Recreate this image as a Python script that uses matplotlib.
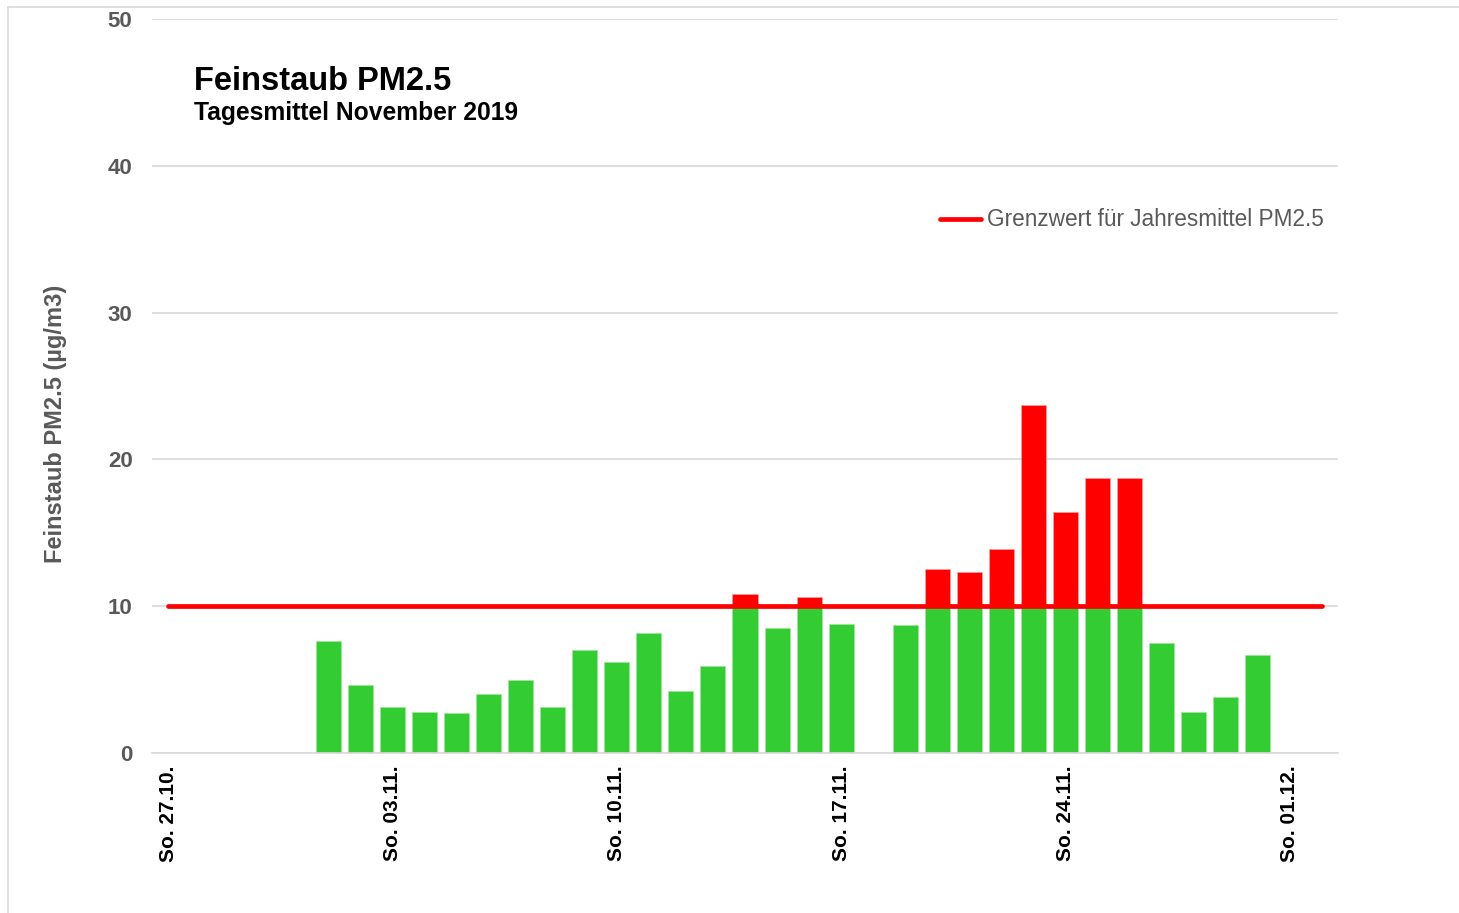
import numpy as np
import matplotlib.pyplot as plt

# daily means PM2.5, 27.10.2019 - 02.12.2019 (None = no value)
days = ["27.10.", "28.10.", "29.10.", "30.10.", "31.10.",
        "01.11.", "02.11.", "03.11.", "04.11.", "05.11.", "06.11.", "07.11.",
        "08.11.", "09.11.", "10.11.", "11.11.", "12.11.", "13.11.", "14.11.",
        "15.11.", "16.11.", "17.11.", "18.11.", "19.11.", "20.11.", "21.11.",
        "22.11.", "23.11.", "24.11.", "25.11.", "26.11.", "27.11.", "28.11.",
        "29.11.", "30.11.", "01.12.", "02.12."]
pm25 = [None, None, None, None, None,
        7.6, 4.6, 3.1, 2.8, 2.7, 4.0, 5.0,
        3.1, 7.0, 6.2, 8.2, 4.2, 5.9, 10.8,
        8.5, 10.6, 8.8, None, 8.7, 12.5, 12.3,
        13.9, 23.7, 16.4, 18.7, 18.7, 7.5, 2.8,
        3.8, 6.7, None, None]
grenzwert = 10
tick_days = ["So. 27.10.", "So. 03.11.", "So. 10.11.", "So. 17.11.", "So. 24.11.", "So. 01.12."]

plt.rcParams['font.family'] = ['Liberation Sans', 'DejaVu Sans']

x = np.arange(len(days))
vals = np.array([np.nan if v is None else v for v in pm25])
has = ~np.isnan(vals)
green = np.minimum(vals, grenzwert)
over = has & (vals > grenzwert)

fig = plt.figure(figsize=(14.59, 9.13), dpi=100)
ax = fig.add_axes([152/1459, 1 - 753/913, (1338 - 152)/1459, (753 - 19)/913])

ax.bar(x[has], green[has], width=0.78, color="#33CC33", edgecolor="#9be89b", linewidth=0.6, zorder=2)
ax.bar(x[over], vals[over] - grenzwert, width=0.78, bottom=grenzwert, color="#FF0000",
       edgecolor="#ff9a9a", linewidth=0.6, zorder=2)
ax.plot([x[0], x[-1]], [grenzwert, grenzwert], color="#FF0000", lw=3.4,
        solid_capstyle="round", zorder=3, label="Grenzwert für Jahresmittel PM2.5")

ax.set_xlim(-0.5, len(days) - 0.5)
ax.set_ylim(0, 50)
ax.set_yticks(range(0, 51, 10))
ax.set_xticks(x[::7])
ax.set_xticklabels(tick_days, rotation=90, fontsize=15, fontweight="bold", color="black")
ax.tick_params(axis="y", labelsize=16, labelcolor="#595959", length=0, pad=14)
ax.tick_params(axis="x", length=0, pad=9)
for lbl in ax.get_yticklabels():
    lbl.set_fontweight("bold")
ax.grid(axis="y", color="#D9D9D9", lw=1.2, zorder=0)
for s in ["top", "right", "left"]:
    ax.spines[s].set_visible(False)
ax.spines["bottom"].set_color("#D9D9D9")
ax.spines["bottom"].set_linewidth(1.2)

ax.set_ylabel("Feinstaub PM2.5 (µg/m3)", fontsize=17, fontweight="bold", color="#595959")
ax.yaxis.set_label_coords((67 - 152)/1186, (753 - 424)/734)

fig.text(194/1459, 1 - 90/913, "Feinstaub PM2.5", fontsize=23.5, fontweight="bold", va="baseline")
fig.text(194/1459, 1 - 120/913, "Tagesmittel November 2019", fontsize=17.7, fontweight="bold", va="baseline")

ax.legend(loc="center right", bbox_to_anchor=(1324/1459, 1 - 220/913), bbox_transform=fig.transFigure,
          frameon=False, fontsize=16.3, labelcolor="#595959", handlelength=1.8, handletextpad=0.27,
          borderpad=0, borderaxespad=0)

# chart area border (left and top)
fig.add_artist(plt.Line2D([8/1459, 8/1459], [0, 1 - 7/913], color="#D9D9D9", lw=1.2))
fig.add_artist(plt.Line2D([8/1459, 1], [1 - 7/913, 1 - 7/913], color="#D9D9D9", lw=1.2))

fig.savefig("out.png", dpi=100)
